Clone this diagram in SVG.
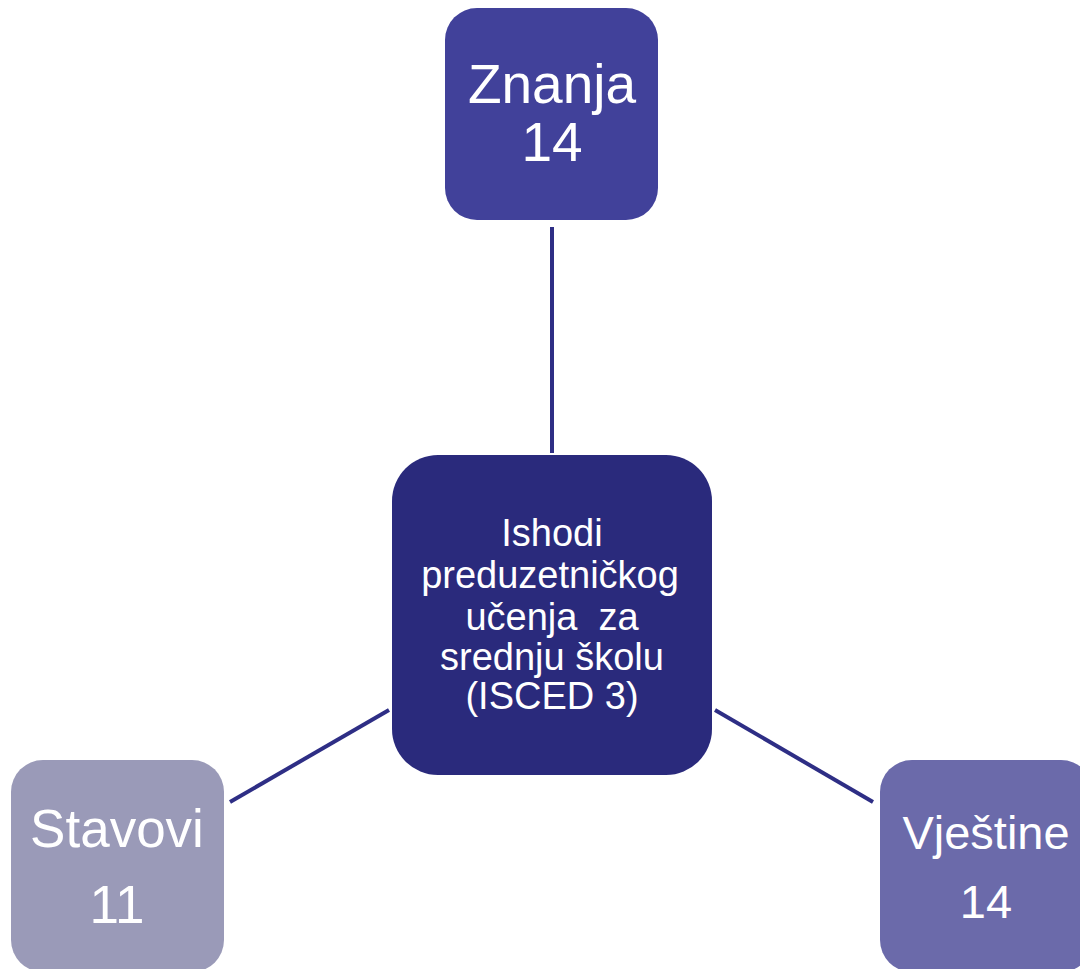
<svg xmlns="http://www.w3.org/2000/svg" width="1080" height="969" viewBox="0 0 1080 969">
<style>
.t{font-family:"Liberation Sans",Arial,sans-serif;fill:#ffffff;text-anchor:middle}
.c{stroke:#2E2E85;stroke-width:4;fill:none}
</style>
<rect width="1080" height="969" fill="#ffffff"/>
<g id="connectors">
<line class="c" x1="552" y1="227" x2="552" y2="453"/>
<line class="c" x1="389" y1="710" x2="230" y2="802"/>
<line class="c" x1="715" y1="710" x2="873" y2="802"/>
</g>
<g id="znanja">
<rect x="445" y="8" width="213" height="212" rx="32" fill="#41419A"/>
<text class="t" font-size="55"><tspan x="552" y="103">Znanja</tspan><tspan x="552" y="161">14</tspan></text>
</g>
<g id="center">
<rect x="392" y="455" width="320" height="320" rx="46" fill="#2A2A7C"/>
<text class="t" font-size="38"><tspan x="552" y="546">Ishodi</tspan><tspan x="550" y="588">preduzetničkog</tspan><tspan x="552" y="630">učenja&#160; za</tspan><tspan x="552" y="670">srednju školu</tspan><tspan x="552" y="709">(ISCED 3)</tspan></text>
</g>
<g id="stavovi">
<rect x="11" y="760" width="213" height="212" rx="32" fill="#9A9AB8"/>
<text class="t" font-size="53"><tspan x="117" y="847">Stavovi</tspan><tspan x="117" y="923">11</tspan></text>
</g>
<g id="vjestine">
<rect x="880" y="760" width="213" height="212" rx="32" fill="#6B6AAA"/>
<text class="t" font-size="47"><tspan x="986" y="849">Vještine</tspan><tspan x="986" y="918">14</tspan></text>
</g>
</svg>
